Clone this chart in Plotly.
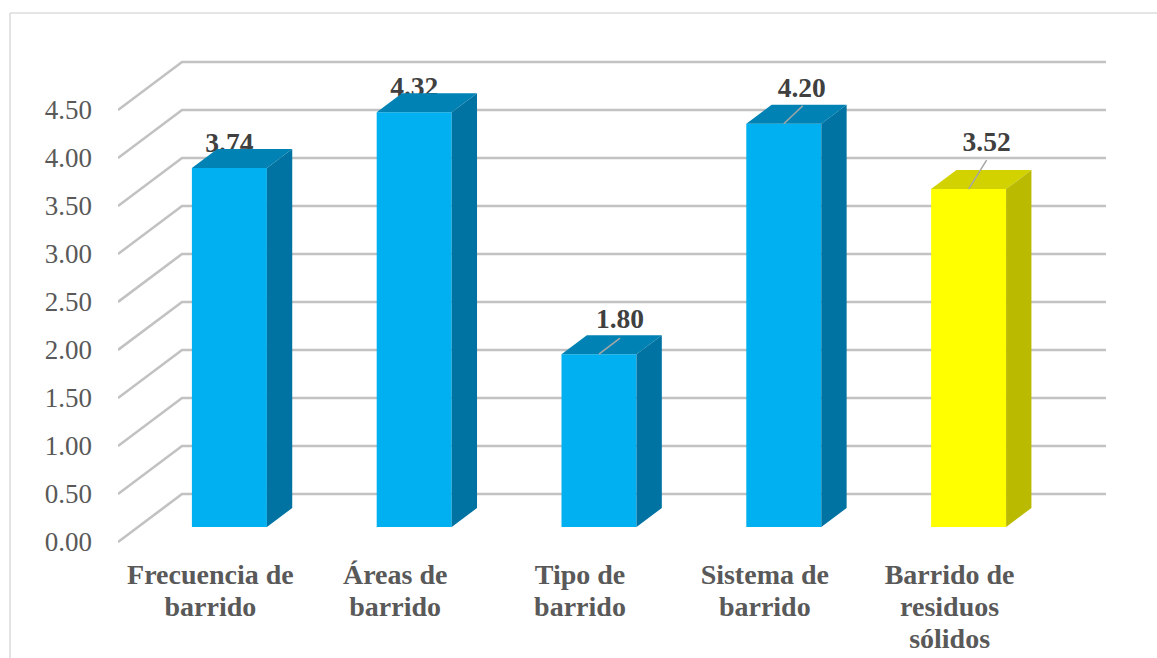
import plotly.graph_objects as go

# Survey scores per sweeping dimension
categories = ["Frecuencia de<br>barrido", "Áreas de<br>barrido", "Tipo de<br>barrido",
              "Sistema de<br>barrido", "Barrido de<br>residuos<br>sólidos"]
values = [3.74, 4.32, 1.80, 4.20, 3.52]
value_labels = ["3.74", "4.32", "1.80", "4.20", "3.52"]
axis_ticks = [0.0, 0.5, 1.0, 1.5, 2.0, 2.5, 3.0, 3.5, 4.0, 4.5]

# Pixel frame of the plot area and scale of the value and category axes
WIDTH, HEIGHT = 1157, 658
LEFT, RIGHT, TOP, BOTTOM = 118, 1120, 40, 658
PX_PER_CAT = 184.8
PX_PER_UNIT = 96.0
Y_ZERO_PX = 542
dx = 1 / PX_PER_CAT
dy = 1 / PX_PER_UNIT

# Oblique projection: one full step of depth shifts right and up
DEPTH_X = 64 * dx
DEPTH_Y = 48 * dy
BAR_NEAR = 15 / 48          # where the bar's front face sits within the depth
BAR_DEEP = 19 / 48          # how much depth the bar occupies
BAR_WIDTH = 75 * dx

FACE = ["#00B0F0"] * 4 + ["#FFFF00"]
TOP_FACE = ["#0083B4"] * 4 + ["#D2D200"]
SIDE_FACE = ["#0073A3"] * 4 + ["#BABA00"]

GRID = "#C2C2C2"
TEXT_AXIS = "#595959"
TEXT_LABEL = "#404040"
SERIF = "Liberation Serif"

base = BAR_NEAR * DEPTH_Y
shift = 19 * dx
centres = [i + shift for i in range(len(values))]
tops = [v + base for v in values]

# Value label offsets from the bar's front top edge, in pixels
label_dx = [0, 0, 21, 18, 18]
label_dy = [23, 23, 33, 34, 45]
# Leader lines only where the label is lifted clear of the bar
leader_to = {2: (21, 16), 3: (19, 18), 4: (18, 29)}

fig = go.Figure()

fig.add_trace(go.Bar(
    x=centres, y=values, base=base, width=BAR_WIDTH,
    marker=dict(color=FACE, line=dict(width=0)), hoverinfo="skip", showlegend=False,
))

# Labels go first so the bar tops cover their lower edge where they touch
fig.add_trace(go.Scatter(
    x=[c + a * dx for c, a in zip(centres, label_dx)],
    y=[t + b * dy for t, b in zip(tops, label_dy)],
    mode="text", text=value_labels, textposition="middle center",
    textfont=dict(family=SERIF, size=27.5, color=TEXT_LABEL, weight=700),
    cliponaxis=False, hoverinfo="skip", showlegend=False,
))

# Top and side faces of each bar, projected from its value
ox = BAR_DEEP * DEPTH_X
oy = BAR_DEEP * DEPTH_Y
half = BAR_WIDTH / 2
for c, t, top_col, side_col in zip(centres, tops, TOP_FACE, SIDE_FACE):
    fig.add_trace(go.Scatter(
        x=[c - half, c + half, c + half + ox, c - half + ox, c - half],
        y=[t, t, t + oy, t + oy, t],
        mode="lines", fill="toself", fillcolor=top_col, line=dict(width=0),
        hoverinfo="skip", showlegend=False,
    ))
    fig.add_trace(go.Scatter(
        x=[c + half, c + half + ox, c + half + ox, c + half, c + half],
        y=[base, base + oy, t + oy, t, base],
        mode="lines", fill="toself", fillcolor=side_col, line=dict(width=0),
        hoverinfo="skip", showlegend=False,
    ))

for i, (a, b) in leader_to.items():
    fig.add_trace(go.Scatter(
        x=[centres[i], centres[i] + a * dx],
        y=[tops[i], tops[i] + b * dy],
        mode="lines", line=dict(color="#A6A6A6", width=1.5),
        hoverinfo="skip", showlegend=False,
    ))

# Category names set line by line for a tighter leading than tick labels allow
LABEL_FIRST_LINE_PX = 577
LABEL_LEADING_PX = 32
cat_x, cat_y, cat_text = [], [], []
for i, name in enumerate(categories):
    for k, line in enumerate(name.split("<br>")):
        cat_x.append(i)
        cat_y.append((Y_ZERO_PX - LABEL_FIRST_LINE_PX - k * LABEL_LEADING_PX) * dy)
        cat_text.append(line)
fig.add_trace(go.Scatter(
    x=cat_x, y=cat_y, mode="text", text=cat_text, textposition="middle center",
    textfont=dict(family=SERIF, size=28, color=TEXT_AXIS, weight=700),
    cliponaxis=False, hoverinfo="skip", showlegend=False,
))

# Wall and floor gridlines: diagonal along the side wall, then across the back
x_front = -0.5
x_back = x_front + DEPTH_X
x_end = len(values) - 0.5 + DEPTH_X
shapes = []
for v in axis_ticks:
    shapes.append(dict(
        type="path", layer="below", xref="x", yref="y",
        path=f"M {x_front},{v} L {x_back},{v + DEPTH_Y} L {x_end},{v + DEPTH_Y}",
        line=dict(color=GRID, width=2.6),
    ))

# Frame edges along the top and left of the chart, open at the right and bottom
pw = RIGHT - LEFT
ph = BOTTOM - TOP
def paper_x(px): return (px - LEFT) / pw
def paper_y(py): return (BOTTOM - py) / ph
FRAME = dict(color="#DCDCDC", width=1.6)
shapes.append(dict(type="line", xref="paper", yref="paper", layer="below",
                   x0=paper_x(10), x1=paper_x(WIDTH), y0=paper_y(13), y1=paper_y(13), line=FRAME))
shapes.append(dict(type="line", xref="paper", yref="paper", layer="below",
                   x0=paper_x(10), x1=paper_x(10), y0=paper_y(13), y1=paper_y(HEIGHT), line=FRAME))

fig.update_layout(
    width=WIDTH, height=HEIGHT, autosize=False,
    margin=dict(l=LEFT, r=WIDTH - RIGHT, t=TOP, b=HEIGHT - BOTTOM, pad=0),
    paper_bgcolor="white", plot_bgcolor="rgba(0,0,0,0)",
    showlegend=False, shapes=shapes, barmode="overlay",
    xaxis=dict(
        automargin=False,
        range=[x_front, x_front + pw * dx],
        showticklabels=False,
        showgrid=False, zeroline=False, showline=False, ticks="",
    ),
    yaxis=dict(
        automargin=False,
        range=[(Y_ZERO_PX - BOTTOM) * dy, (Y_ZERO_PX - TOP) * dy],
        tickmode="array", tickvals=axis_ticks, tickformat=".2f",
        tickfont=dict(family=SERIF, size=27, color=TEXT_AXIS),
        showgrid=False, zeroline=False, showline=False, ticks="",
        ticklabelstandoff=25,
    ),
)

fig.write_html("out.html")
